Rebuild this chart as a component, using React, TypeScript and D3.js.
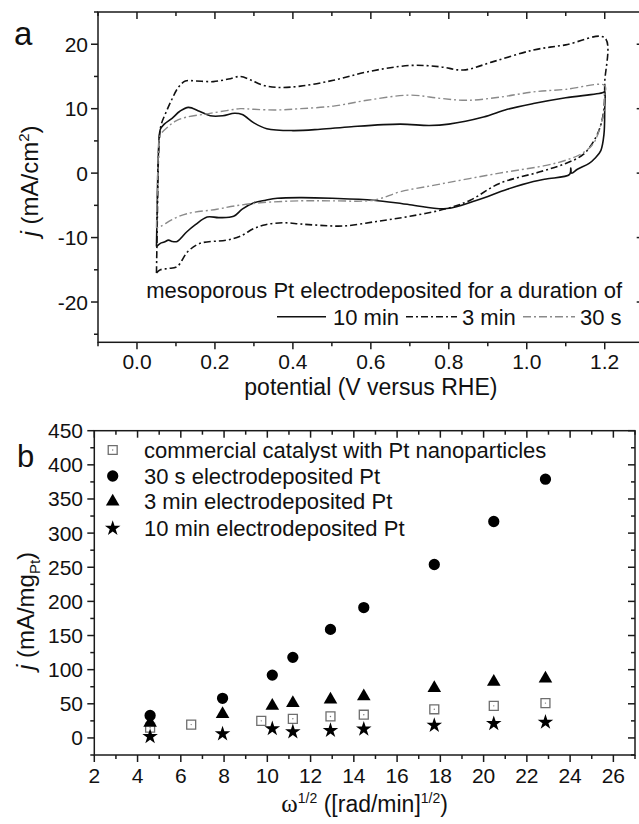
import React from "react";
import * as d3 from "d3";

// ---------- Panel a data: cyclic voltammograms [potential V, j mA/cm2] ----------
const cv10min: [number, number][] = [
  [0.05, -11.4], [0.052, -5], [0.055, 3], [0.06, 6.8], [0.07, 7.6], [0.09, 8.5], [0.11, 9.6],
  [0.132, 10.2], [0.16, 9.6], [0.188, 8.9], [0.22, 8.9], [0.25, 9.3], [0.27, 9.1], [0.3, 7.8],
  [0.333, 6.9], [0.4, 6.6], [0.47, 6.8], [0.55, 7.2], [0.675, 7.6], [0.75, 7.4], [0.8, 7.6],
  [0.889, 8.7], [0.95, 9.9], [1.017, 10.8], [1.1, 11.7], [1.196, 12.5], [1.2, 12.7],
  [1.2, 10], [1.198, 6], [1.19, 3.5], [1.175, 2.3], [1.16, 1.5], [1.13, 0.6], [1.115, 0.0],
  [1.113, 0.8], [1.11, -0.2], [1.05, -0.9], [1.017, -1.3], [0.95, -2.5], [0.872, -4.2],
  [0.795, -5.5], [0.7, -4.9], [0.607, -4.2], [0.5, -3.9], [0.42, -3.8], [0.36, -3.9],
  [0.33, -4.2], [0.3, -4.6], [0.27, -5.6], [0.248, -6.7], [0.21, -6.9], [0.18, -6.8],
  [0.15, -8], [0.128, -9.1], [0.103, -10.6], [0.09, -10.6], [0.081, -10.4], [0.07, -10.7],
  [0.06, -10.9], [0.05, -11.4],
];
const cv3min: [number, number][] = [
  [0.05, -15.5], [0.052, -8], [0.054, 0], [0.057, 5], [0.062, 7.5], [0.075, 9.5], [0.09, 11.5],
  [0.105, 13.2], [0.124, 14.3], [0.15, 14.3], [0.196, 14.2], [0.235, 14.6], [0.265, 15.0],
  [0.29, 14.5], [0.32, 13.7], [0.359, 13.3], [0.42, 13.5], [0.504, 14.4], [0.59, 15.7],
  [0.7, 16.7], [0.778, 16.5], [0.837, 16.0], [0.914, 17.3], [1.017, 19.1], [1.1, 19.9],
  [1.2, 21.0], [1.2, 14], [1.198, 10], [1.19, 7.5], [1.175, 5.3], [1.145, 2.9], [1.1, 1.5],
  [1.034, 0.2], [0.93, -1.6], [0.855, -4.2], [0.795, -5.5], [0.7, -6.7], [0.615, -7.5],
  [0.53, -8.2], [0.47, -8.1], [0.42, -7.9], [0.376, -7.7], [0.33, -8.0], [0.3, -8.6],
  [0.265, -9.8], [0.23, -10.4], [0.162, -10.9], [0.13, -12.2], [0.103, -14.5], [0.08, -14.8],
  [0.06, -15.0], [0.05, -15.5],
];
const cv30s: [number, number][] = [
  [0.05, -8.5], [0.052, -3], [0.055, 3], [0.06, 5.9], [0.08, 7.2], [0.1, 8.1], [0.128, 8.7],
  [0.18, 9.2], [0.23, 9.7], [0.265, 10.0], [0.3, 9.9], [0.359, 9.8], [0.42, 10.0], [0.504, 10.4],
  [0.59, 11.3], [0.7, 12.1], [0.778, 11.6], [0.846, 11.3], [0.932, 11.8], [1.017, 12.6],
  [1.1, 13.0], [1.2, 13.6], [1.2, 12], [1.198, 9.5], [1.19, 7.5], [1.171, 4.6], [1.14, 3.0],
  [1.1, 2.0], [1.05, 1.2], [0.93, 0], [0.76, -1.9], [0.675, -2.9], [0.607, -4.2], [0.5, -4.3],
  [0.42, -4.3], [0.316, -4.6], [0.25, -5.1], [0.205, -5.6], [0.128, -6.3], [0.09, -7.2],
  [0.06, -8.3], [0.05, -8.5],
];

// ---------- Panel b data ----------
const omegaSqrt = [4.58, 7.93, 10.23, 11.18, 12.92, 14.46, 17.72, 20.47, 22.86];
const omegaSqrtCommercial = [4.58, 6.48, 9.72, 11.18, 12.92, 14.46, 17.72, 20.47, 22.86];
const jCommercial = [15, 19.5, 25, 28, 31.5, 34, 42, 47, 51];
const j30s = [33, 58, 92, 118, 159, 191, 254, 317, 379];
const j3min = [22, 35, 47, 51, 56, 61, 73, 82, 87];
const j10min = [2, 6, 13.5, 9, 11, 13, 18.5, 21, 23];

const aXMajor = [0, 0.2, 0.4, 0.6, 0.8, 1.0, 1.2];
const aXMinor = [-0.1, 0.1, 0.3, 0.5, 0.7, 0.9, 1.1, 1.3];
const aYMajor = [-20, -10, 0, 10, 20];
const aYMinor = [-25, -15, -5, 5, 15, 25];
const bXMajor = d3.range(2, 27, 2);
const bXMinor = d3.range(3, 28, 2);
const bYMajor = d3.range(0, 451, 50);
const bYMinor = d3.range(-25, 451, 50);

const legendA = ["10 min", "3 min", "30 s"];
const legendB = [
  "commercial catalyst with Pt nanoparticles",
  "30 s electrodeposited Pt",
  "3 min electrodeposited Pt",
  "10 min electrodeposited Pt",
];

const FONT = "'Liberation Sans', Arial, Helvetica, sans-serif";
const AX = "#1a1a1a";

export default function App() {
  // panel a geometry
  const aL = 98, aR = 643.7, aT = 12, aB = 342.3;
  const xa = d3.scaleLinear().domain([-0.1, 1.3]).range([aL, aR]);
  const ya = d3.scaleLinear().domain([-26.25, 25]).range([aB, aT]);
  const lineA = d3.line<[number, number]>().x(d => xa(d[0])).y(d => ya(d[1])).curve(d3.curveCatmullRom.alpha(0.5));

  // panel b geometry
  const bL = 94.3, bR = 635, bT = 430.7, bB = 755;
  const xb = d3.scaleLinear().domain([2, 27]).range([bL, bR]);
  const yb = d3.scaleLinear().domain([-25, 450]).range([bB, bT]);

  const sym = (t: any, s: number) => d3.symbol().type(t).size(s)() as string;
  const circ = sym(d3.symbolCircle, 100);
  const tri = sym(d3.symbolTriangle, 80);
  const star = sym(d3.symbolStar, 75);
  const sq = sym(d3.symbolSquare, 80);

  const Square = ({ x, y }: { x: number; y: number }) => (
    <g transform={`translate(${x},${y})`}>
      <path d={sq} fill="white" stroke="#6e6e6e" strokeWidth={1.3} />
      <circle r={0.7} fill="#777" />
    </g>
  );

  const styles = [
    { stroke: "#111", dash: undefined as string | undefined, w: 1.6 },
    { stroke: "#111", dash: "7,3,2,3", w: 1.6 },
    { stroke: "#8a8a8a", dash: "8,3,2,3", w: 1.4 },
  ];
  const cvs = [cv10min, cv3min, cv30s];

  return (
    <svg width={639} height={824} style={{ position: "absolute", left: 0, top: 0, background: "white" }} fontFamily={FONT}>
      <rect width={639} height={824} fill="white" />
      {/* ---------------- Panel a ---------------- */}
      <g>
        <clipPath id="clipA"><rect x={aL} y={aT} width={aR - aL} height={aB - aT} /></clipPath>
        <g clipPath="url(#clipA)">
          {cvs.map((c, i) => (
            <path key={i} d={lineA(c) as string} fill="none" stroke={styles[i].stroke}
              strokeWidth={styles[i].w} strokeDasharray={styles[i].dash} strokeLinejoin="round" />
          ))}
        </g>
        <rect x={aL} y={aT} width={aR - aL} height={aB - aT} fill="none" stroke={AX} strokeWidth={1.5} />
        {aXMajor.map(v => (
          <g key={"axM" + v}>
            <line x1={xa(v)} x2={xa(v)} y1={aB} y2={aB + 7} stroke={AX} strokeWidth={1.5} />
            <line x1={xa(v)} x2={xa(v)} y1={aT} y2={aT + 7} stroke={AX} strokeWidth={1.5} />
            <text x={xa(v)} y={369} textAnchor="middle" fontSize={21} fill="#111">{v.toFixed(1)}</text>
          </g>
        ))}
        {aXMinor.map(v => (
          <g key={"axm" + v}>
            <line x1={xa(v)} x2={xa(v)} y1={aB} y2={aB + 4} stroke={AX} strokeWidth={1.5} />
            <line x1={xa(v)} x2={xa(v)} y1={aT} y2={aT + 4} stroke={AX} strokeWidth={1.5} />
          </g>
        ))}
        {aYMajor.map(v => (
          <g key={"ayM" + v}>
            <line x1={aL - 7} x2={aL} y1={ya(v)} y2={ya(v)} stroke={AX} strokeWidth={1.5} />
            <line x1={aR - 7} x2={aR} y1={ya(v)} y2={ya(v)} stroke={AX} strokeWidth={1.5} />
            <text x={88} y={ya(v) + 7.5} textAnchor="end" fontSize={21} fill="#111">{v}</text>
          </g>
        ))}
        {aYMinor.map(v => (
          <g key={"aym" + v}>
            <line x1={aL - 4} x2={aL} y1={ya(v)} y2={ya(v)} stroke={AX} strokeWidth={1.5} />
            <line x1={aR - 4} x2={aR} y1={ya(v)} y2={ya(v)} stroke={AX} strokeWidth={1.5} />
          </g>
        ))}
        <text x={xa(0.6)} y={395} textAnchor="middle" fontSize={23} fill="#111">potential (V versus RHE)</text>
        <text transform={`translate(38,${181}) rotate(-90)`} textAnchor="middle" fontSize={24} fill="#111">
          <tspan fontStyle="italic">j</tspan> (mA/cm<tspan fontSize={15} dy={-9}>2</tspan><tspan dy={9}>)</tspan>
        </text>
        <text x={14} y={45} fontSize={33} fill="#111">a</text>
        {/* legend a */}
        <text x={622} y={298} textAnchor="end" fontSize={22} fill="#111">mesoporous Pt electrodeposited for a duration of</text>
        {[
          { x1: 277, x2: 326, tx: 333 },
          { x1: 406, x2: 457, tx: 462 },
          { x1: 523, x2: 575, tx: 580 },
        ].map((p, i) => (
          <g key={"lga" + i}>
            <line x1={p.x1} x2={p.x2} y1={316.7} y2={316.7} stroke={styles[i].stroke} strokeWidth={styles[i].w}
              strokeDasharray={styles[i].dash} />
            <text x={p.tx} y={324.5} fontSize={22} fill="#111">{legendA[i]}</text>
          </g>
        ))}
      </g>

      {/* ---------------- Panel b ---------------- */}
      <g>
        <rect x={bL} y={bT} width={bR - bL} height={bB - bT} fill="none" stroke={AX} strokeWidth={1.5} />
        {bXMajor.map(v => (
          <g key={"bxM" + v}>
            <line x1={xb(v)} x2={xb(v)} y1={bB} y2={bB + 7} stroke={AX} strokeWidth={1.5} />
            <line x1={xb(v)} x2={xb(v)} y1={bT} y2={bT + 7} stroke={AX} strokeWidth={1.5} />
            <text x={xb(v)} y={783} textAnchor="middle" fontSize={21} fill="#111">{v}</text>
          </g>
        ))}
        {bXMinor.map(v => (
          <g key={"bxm" + v}>
            <line x1={xb(v)} x2={xb(v)} y1={bB} y2={bB + 4} stroke={AX} strokeWidth={1.5} />
            <line x1={xb(v)} x2={xb(v)} y1={bT} y2={bT + 4} stroke={AX} strokeWidth={1.5} />
          </g>
        ))}
        {bYMajor.map(v => (
          <g key={"byM" + v}>
            <line x1={bL - 7} x2={bL} y1={yb(v)} y2={yb(v)} stroke={AX} strokeWidth={1.5} />
            <line x1={bR - 7} x2={bR} y1={yb(v)} y2={yb(v)} stroke={AX} strokeWidth={1.5} />
            <text x={83} y={yb(v) + 7.5} textAnchor="end" fontSize={21} fill="#111">{v}</text>
          </g>
        ))}
        {bYMinor.map(v => (
          <g key={"bym" + v}>
            <line x1={bL - 4} x2={bL} y1={yb(v)} y2={yb(v)} stroke={AX} strokeWidth={1.5} />
            <line x1={bR - 4} x2={bR} y1={yb(v)} y2={yb(v)} stroke={AX} strokeWidth={1.5} />
          </g>
        ))}
        {/* markers */}
        {omegaSqrtCommercial.map((x, i) => <Square key={"sq" + i} x={xb(x)} y={yb(jCommercial[i])} />)}
        {omegaSqrt.map((x, i) => <path key={"c" + i} d={circ} transform={`translate(${xb(x)},${yb(j30s[i])})`} fill="#000" />)}
        {omegaSqrt.map((x, i) => <path key={"t" + i} d={tri} transform={`translate(${xb(x)},${yb(j3min[i])})`} fill="#000" />)}
        {omegaSqrt.map((x, i) => <path key={"s" + i} d={star} transform={`translate(${xb(x)},${yb(j10min[i])})`} fill="#000" />)}
        {/* legend b */}
        {legendB.map((t, i) => {
          const cy = [450, 476, 501.7, 528.3][i];
          return (
            <g key={"lgb" + i}>
              {i === 0 && <Square x={112.7} y={cy} />}
              {i === 1 && <path d={circ} transform={`translate(112.7,${cy})`} fill="#000" />}
              {i === 2 && <path d={tri} transform={`translate(112.7,${cy})`} fill="#000" />}
              {i === 3 && <path d={star} transform={`translate(112.7,${cy})`} fill="#000" />}
              <text x={144} y={cy + 7.5} fontSize={22} fill="#111">{t}</text>
            </g>
          );
        })}
        <text x={(bL + bR) / 2} y={812} textAnchor="middle" fontSize={23} fill="#111">
          <tspan fontFamily="'Liberation Serif', 'Times New Roman', serif" fontSize={25}>ω</tspan>
          <tspan fontSize={14} dy={-9}>1/2</tspan>
          <tspan dy={9}> ([rad/min]</tspan>
          <tspan fontSize={14} dy={-9}>1/2</tspan>
          <tspan dy={9}>)</tspan>
        </text>
        <text transform={`translate(34,${611}) rotate(-90)`} textAnchor="middle" fontSize={24} fill="#111">
          <tspan fontStyle="italic">j</tspan> (mA/mg<tspan fontSize={15} dy={6}>Pt</tspan><tspan dy={-6}>)</tspan>
        </text>
        <text x={17} y={467} fontSize={31} fill="#111">b</text>
      </g>
    </svg>
  );
}
